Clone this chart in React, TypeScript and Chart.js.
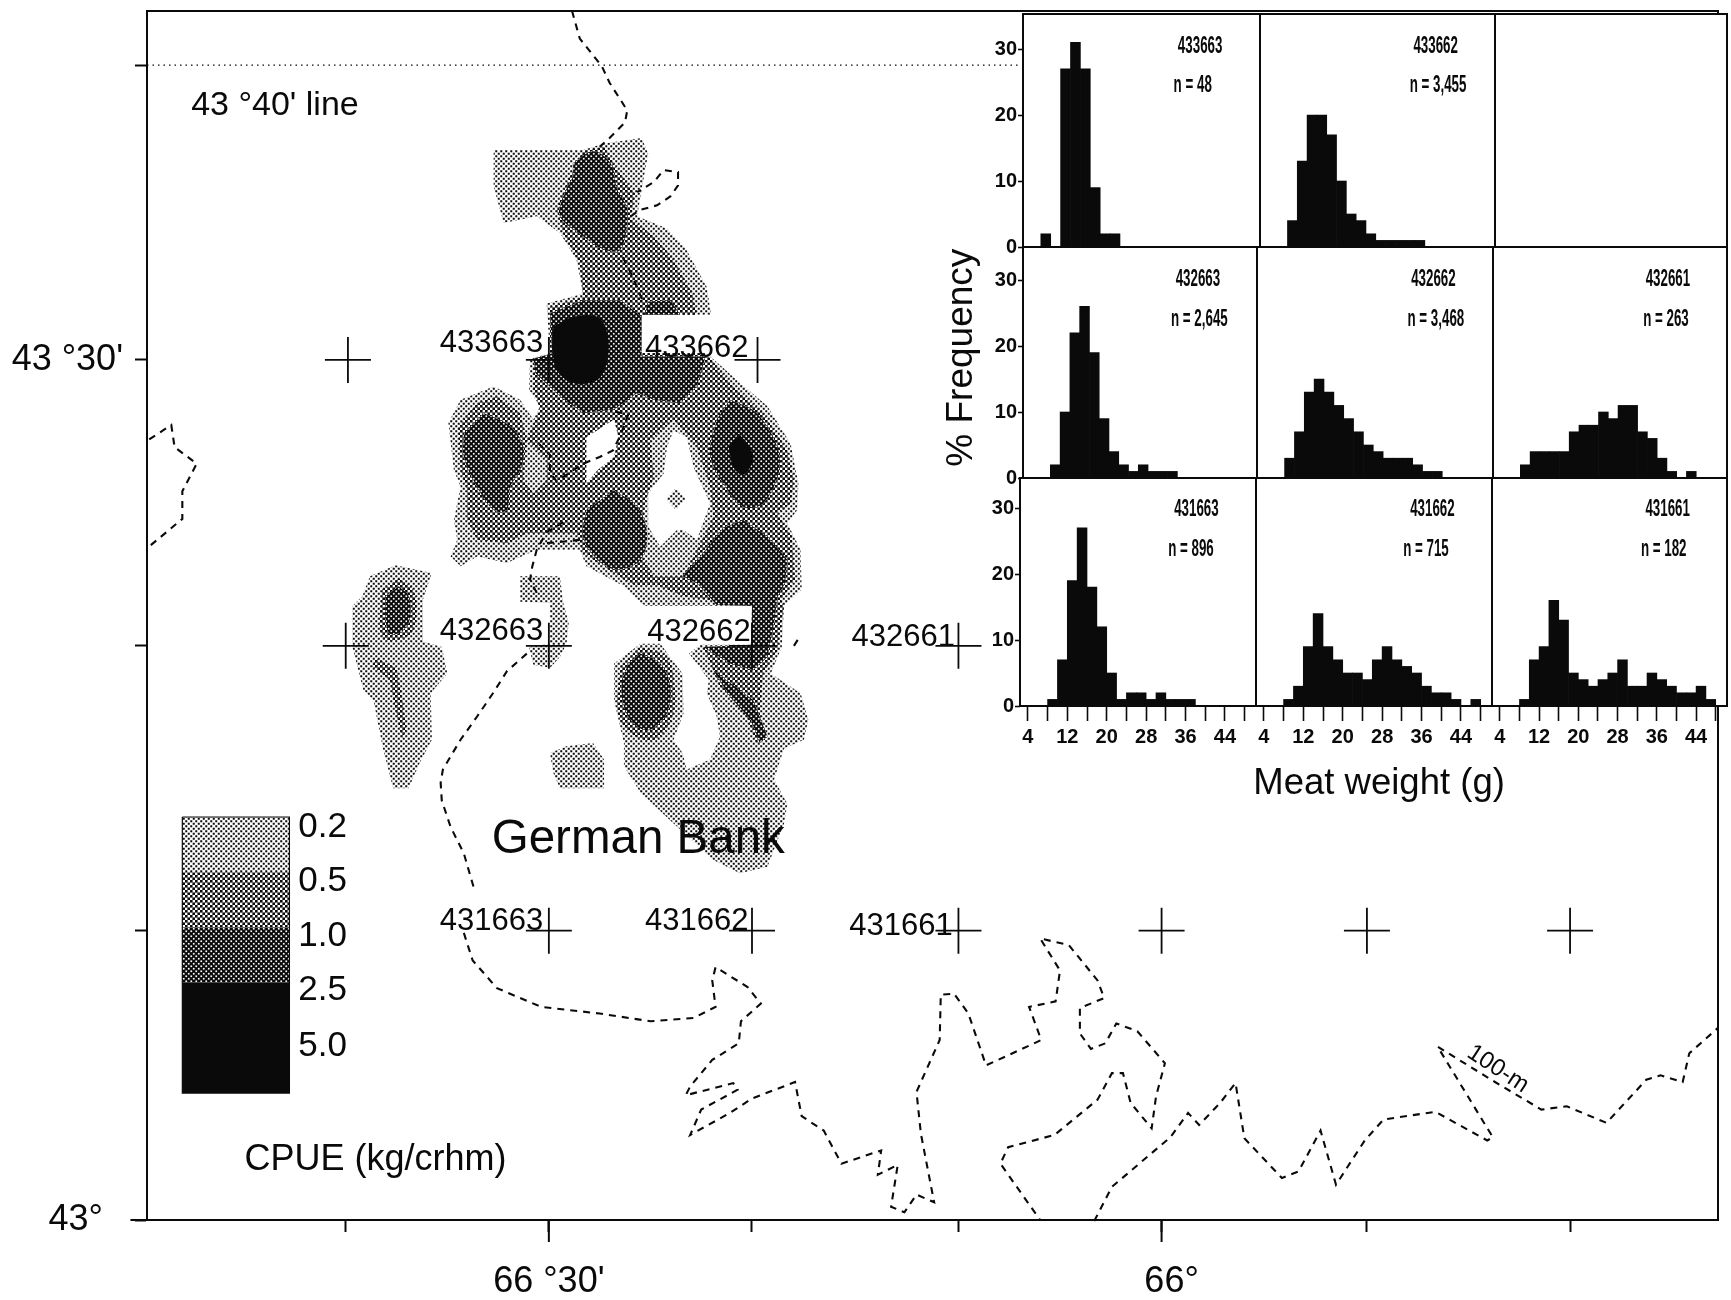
import React, { useEffect, useRef } from "react";
import { Chart, registerables } from "chart.js";

Chart.register(...registerables);

type Pt = [number, number];

/* ---- histogram data: % frequency in 2 g meat-weight bins ---- */
const binCentres = [3, 5, 7, 9, 11, 13, 15, 17, 19, 21, 23, 25, 27, 29, 31, 33, 35, 37, 39, 41, 43, 45, 47, 49];
const freq433663 = [0, 0, 2, 0, 27, 31, 27, 9, 2, 2, 0, 0, 0, 0, 0, 0, 0, 0, 0, 0, 0, 0, 0, 0];
const freq433662 = [0, 0, 0, 4, 13, 20, 20, 17, 10, 5, 4, 2, 1, 1, 1, 1, 1, 0, 0, 0, 0, 0, 0, 0];
const freq432663 = [0, 0, 0, 2, 10, 22, 26, 19, 9, 4, 2, 1, 2, 1, 1, 1, 0, 0, 0, 0, 0, 0, 0, 0];
const freq432662 = [0, 0, 0, 3, 7, 13, 15, 13, 11, 9, 7, 5, 4, 3, 3, 3, 2, 1, 1, 0, 0, 0, 0, 0];
const freq432661 = [0, 0, 0, 2, 4, 4, 4, 4, 7, 8, 8, 10, 9, 11, 11, 7, 6, 3, 1, 0, 1, 0, 0, 0];
const freq431663 = [0, 0, 0, 1, 7, 19, 27, 18, 12, 5, 1, 2, 2, 1, 2, 1, 1, 1, 0, 0, 0, 0, 0, 0];
const freq431662 = [0, 0, 0, 1, 3, 9, 14, 9, 7, 5, 5, 4, 7, 9, 7, 6, 5, 3, 2, 2, 1, 0, 1, 0];
const freq431661 = [0, 0, 0, 1, 7, 9, 16, 13, 5, 4, 3, 4, 5, 7, 3, 3, 5, 4, 3, 2, 2, 3, 1, 0];
const weightTicks = [4, 8, 12, 16, 20, 24, 28, 32, 36, 40, 44, 48];
const weightLabels = [4, 12, 20, 28, 36, 44];
const freqTicks = [0, 10, 20, 30];

/* ---- map data, in projected grid units (easting, southing) ---- */
const gridX = { min: 133, max: 1556 };
const gridY = { min: 10, max: 1105 };
const eastingTicks = [313, 497, 681, 868, 1052, 1238, 1422];
const southingTicks = [59, 326, 585, 843, 1105];
const eastingLabels: Record<number, string> = { 497: "66 °30'", 1052: "  66°" };
const southingLabels: Record<number, string> = { 326: "43 °30'", 1105: "43°  " };

const stationCrosses: Pt[] = [
  [315, 326], [497, 326], [686, 326],
  [313, 585], [497, 585], [681, 585], [868, 585],
  [497, 843], [681, 843], [868, 843], [1052, 843], [1238, 843], [1422, 843],
];

const line4340: Pt[] = [[133, 59], [925, 59]];
const mapFrame: Pt[] = [[133, 10], [1556, 10], [1556, 1105]];
const longTick1: Pt[] = [[497, 1105], [497, 1125]];
const longTick2: Pt[] = [[1052, 1105], [1052, 1125]];
const longTick3: Pt[] = [[118, 1105], [133, 1105]];

/* 100-m isobath */
const iso1: Pt[] = [[518, 10], [525, 35], [545, 60], [552, 75], [568, 100], [566, 111], [552, 125], [543, 133]];
const iso2: Pt[] = [[571, 196], [580, 190], [595, 186], [607, 178], [614, 168], [614, 156], [601, 154], [592, 165], [577, 174]];
const iso3: Pt[] = [[564, 233], [573, 251], [583, 275]];
const iso4: Pt[] = [[557, 373], [569, 375], [562, 394], [555, 408], [543, 414], [528, 420], [516, 428], [504, 436], [498, 428], [498, 412], [483, 397]];
const iso5: Pt[] = [[525, 489], [507, 491], [495, 492]];
const iso6: Pt[] = [[510, 473], [495, 482], [486, 498], [482, 513], [480, 525], [486, 537]];
const iso7: Pt[] = [[477, 592], [459, 608], [447, 627], [432, 649], [417, 670], [401, 697], [399, 709], [400, 725], [408, 749], [420, 773], [429, 804]];
const iso8: Pt[] = [
  [420, 845], [428, 870], [450, 895], [490, 912], [543, 918], [589, 925], [628, 922], [648, 912], [645, 888], [648, 876],
  [677, 894], [689, 909], [671, 925], [669, 945], [645, 960], [625, 984], [621, 992], [664, 981], [668, 987], [635, 1005],
  [625, 1028], [661, 1008], [681, 995], [720, 980], [726, 1011], [746, 1024], [762, 1054], [798, 1042], [795, 1064], [813, 1055],
  [807, 1093], [819, 1098], [830, 1082], [846, 1089], [834, 1027], [830, 989], [851, 942], [852, 901], [864, 900], [877, 918],
  [893, 965], [943, 942], [932, 912], [956, 907], [960, 879], [942, 850], [968, 856], [994, 888], [1000, 904], [978, 913],
  [978, 936], [988, 950], [1001, 945], [1011, 927], [1030, 934], [1055, 963], [1047, 993], [1043, 1022], [1024, 999], [1017, 972],
  [1007, 972], [994, 996], [955, 1028], [913, 1039], [906, 1054], [942, 1105],
];
const iso9: Pt[] = [
  [991, 1106], [1007, 1075], [1060, 1030], [1076, 1008], [1086, 1019], [1105, 999], [1119, 981], [1127, 1031], [1161, 1067],
  [1176, 1061], [1196, 1024], [1210, 1073], [1236, 1033], [1253, 1014], [1300, 1007], [1347, 1033], [1352, 1030], [1302, 948],
  [1354, 980], [1396, 1005], [1419, 1002], [1455, 1017], [1491, 978], [1504, 974], [1524, 980], [1530, 954], [1556, 931],
];
const iso10: Pt[] = [[135, 398], [155, 385], [158, 405], [178, 420], [165, 445], [165, 470], [135, 495]];
const iso11: Pt[] = [[719, 585], [724, 577]];

/* CPUE contours */
const cpue02North: Pt[] = [
  [447, 136], [528, 136], [547, 130], [581, 125], [587, 139], [581, 172], [577, 196], [604, 207], [621, 225], [640, 260],
  [644, 285], [581, 285], [581, 320], [640, 320], [667, 344], [695, 368], [716, 402], [723, 438], [722, 462], [713, 474],
  [725, 498], [726, 534], [710, 549], [681, 549], [585, 549], [580, 546], [565, 531], [531, 513], [525, 498], [486, 498],
  [459, 510], [432, 504], [417, 513], [408, 504], [414, 489], [411, 471], [417, 441], [411, 426], [406, 383], [417, 362],
  [447, 350], [471, 362], [483, 380], [489, 368], [479, 353], [480, 325], [498, 320], [495, 275], [528, 266], [522, 235],
  [507, 211], [486, 196], [456, 202], [447, 169],
];
const cpue02South: Pt[] = [
  [710, 549], [708, 586], [698, 610], [725, 628], [732, 652], [728, 670], [710, 678], [701, 706], [713, 728], [710, 746],
  [695, 785], [670, 791], [646, 779], [610, 746], [580, 718], [565, 694], [565, 673], [556, 634], [556, 601], [580, 583],
  [598, 583], [618, 610], [619, 646], [610, 670], [618, 682], [622, 697], [643, 688], [652, 667], [649, 649], [640, 628],
  [642, 616], [624, 592], [634, 584], [681, 584], [681, 549],
];
const cpue02West: Pt[] = [
  [358, 512], [391, 519], [383, 543], [383, 581], [400, 586], [405, 610], [390, 628], [391, 670], [380, 691], [370, 714],
  [356, 714], [347, 679], [338, 634], [329, 625], [319, 586], [319, 549], [328, 540], [335, 522],
];
const cpue02Small: Pt[] = [[471, 522], [507, 522], [510, 546], [515, 564], [513, 583], [507, 595], [498, 605], [483, 602], [479, 586], [498, 583], [498, 546], [471, 545]];
const cpue02Patch: Pt[] = [[498, 682], [513, 676], [537, 673], [547, 688], [547, 714], [507, 714], [501, 700]];

const cpue05Main: Pt[] = [
  [528, 137], [547, 133], [559, 154], [575, 175], [571, 198], [592, 214], [610, 235], [627, 266], [631, 285], [581, 285],
  [581, 320], [639, 320], [664, 350], [691, 374], [713, 408], [719, 435], [716, 456], [704, 465], [717, 486], [720, 525],
  [707, 544], [710, 549], [704, 589], [691, 610], [688, 646], [695, 670], [685, 673], [676, 649], [652, 622], [637, 586],
  [681, 585], [681, 549], [619, 540], [595, 530], [575, 530], [565, 525], [528, 501], [522, 483], [477, 483], [459, 492],
  [432, 489], [423, 471], [423, 444], [417, 426], [415, 386], [432, 365], [450, 359], [471, 374], [477, 398], [489, 371],
  [483, 353], [483, 329], [498, 322], [498, 278], [528, 269], [525, 239], [510, 211], [504, 190], [513, 166],
];
const cpue05West: Pt[] = [[361, 524], [374, 534], [377, 558], [371, 575], [350, 580], [344, 570], [346, 534]];
const cpue05Streak: Pt[] = [[340, 596], [359, 605], [364, 631], [368, 661], [364, 669], [358, 643], [353, 616], [337, 604]];
const cpue05Round: Pt[] = [[580, 586], [604, 595], [611, 622], [610, 646], [598, 667], [583, 670], [565, 658], [559, 640], [562, 604]];

const lowRing: Pt[] = [[610, 380], [631, 405], [643, 441], [646, 468], [631, 498], [619, 522], [592, 522], [580, 501], [584, 456], [592, 432], [589, 399]];
const lowGap: Pt[] = [[477, 399], [495, 417], [495, 435], [483, 447], [474, 435]];
const holeWest: Pt[] = [[531, 396], [556, 380], [560, 396], [556, 414], [541, 426], [531, 438]];
const holeCentre: Pt[] = [[610, 390], [622, 396], [628, 423], [643, 456], [631, 489], [619, 480], [613, 480], [598, 495], [587, 477], [587, 447], [601, 429], [604, 405]];
const holeIsland: Pt[] = [[612, 442], [621, 452], [612, 462], [603, 452]];

const cpue10Lobe: Pt[] = [[519, 148], [537, 137], [553, 148], [559, 172], [568, 190], [562, 226], [547, 226], [528, 214], [507, 196], [510, 178], [519, 160]];
const cpue10Neck: Pt[] = [[587, 273], [607, 272], [616, 285], [584, 285]];
const cpue10Centre: Pt[] = [
  [498, 284], [528, 272], [562, 272], [581, 287], [581, 323], [639, 323], [631, 350], [616, 365], [592, 362], [577, 356],
  [556, 371], [528, 374], [507, 359], [485, 338], [483, 325], [500, 320],
];
const cpue10East: Pt[] = [[661, 362], [685, 374], [704, 405], [705, 429], [691, 456], [673, 459], [655, 438], [643, 411], [649, 380]];
const cpue10Mid: Pt[] = [[556, 444], [577, 459], [586, 483], [580, 507], [559, 516], [541, 507], [528, 486], [531, 462]];
const cpue10SouthEast: Pt[] = [
  [673, 471], [695, 486], [713, 507], [711, 528], [704, 541], [701, 564], [695, 595], [682, 607], [661, 601], [637, 586],
  [680, 584], [681, 549], [649, 548], [631, 528], [618, 522], [634, 504], [655, 478],
];
const cpue10Streak: Pt[] = [[646, 607], [682, 634], [695, 667], [688, 673], [680, 652], [661, 631]];
const cpue10West: Pt[] = [[438, 374], [462, 386], [474, 405], [471, 426], [462, 441], [459, 462], [447, 462], [432, 441], [420, 414], [420, 393]];
const cpue10WestSmall: Pt[] = [[361, 531], [370, 540], [371, 561], [364, 572], [353, 574], [349, 561], [349, 540]];
const cpue10Round: Pt[] = [[580, 592], [598, 601], [607, 622], [604, 646], [589, 661], [577, 658], [566, 643], [563, 619], [569, 601]];

const cpue25Centre: Pt[] = [[501, 296], [519, 287], [541, 287], [550, 302], [550, 326], [541, 344], [519, 347], [504, 335], [500, 314]];
const cpue25East: Pt[] = [[669, 393], [679, 405], [682, 417], [673, 430], [664, 423], [660, 405]];

/* legend */
const legendBand02: Pt[] = [[165, 740], [262, 740], [262, 790], [165, 790]];
const legendBand05: Pt[] = [[165, 790], [262, 790], [262, 840], [165, 840]];
const legendBand10: Pt[] = [[165, 840], [262, 840], [262, 890], [165, 890]];
const legendBand25: Pt[] = [[165, 890], [262, 890], [262, 990], [165, 990]];
const legendOutline: Pt[] = [[165, 740], [262, 740], [262, 990], [165, 990], [165, 740]];
const legendValues = ["0.2", "0.5", "1.0", "2.5", "5.0"];
const legendValueRows = [747, 796, 845, 894, 945];

/* text placed on the map */
const stationNames = ["433663", "433662", "432663", "432662", "432661", "431663", "431662", "431661"];
const stationNameX = [445, 631, 445, 633, 818, 445, 631, 816];
const stationNameY = [308, 313, 569, 570, 575, 832, 832, 836];

const panelIds = ["433663", "433662", "", "432663", "432662", "432661", "431663", "431662", "431661"];
const panelCounts = ["n = 48", "n = 3,455", "", "n = 2,645", "n = 3,468", "n = 263", "n = 896", "n = 715", "n = 182"];
const panelCountX = [36.7, 38.7, 0, 38.5, 38.7, 37.8, 37.1, 36.9, 37.4];
const panelFreqs = [freq433663, freq433662, [], freq432663, freq432662, freq432661, freq431663, freq431662, freq431661];
const panelLeft = [1023, 1260, 1495, 1023, 1257, 1493, 1020, 1256, 1492];
const panelRight = [1260, 1495, 1727, 1257, 1493, 1727, 1256, 1492, 1727];
const panelTop = [14, 14, 14, 247, 247, 247, 478, 478, 478];
const panelBottom = [247, 247, 247, 478, 478, 478, 706, 706, 706];
const panelColumn = [0, 1, 2, 0, 1, 2, 0, 1, 2];
const panelRow = [0, 0, 0, 1, 1, 1, 2, 2, 2];
const rowTextDrop = [0, 0.35, 0.7];

const INK = "#0a0a0a";
const SANS = '"Liberation Sans", Arial, sans-serif';
const NARROW = '"Liberation Sans Narrow", "Liberation Sans", sans-serif';

function dither(ctx: CanvasRenderingContext2D, dark: boolean, size: number) {
  const tile = document.createElement("canvas");
  tile.width = 5;
  tile.height = 5;
  const t = tile.getContext("2d")!;
  t.fillStyle = dark ? INK : "#ffffff";
  t.fillRect(0, 0, 5, 5);
  t.fillStyle = dark ? "#ffffff" : INK;
  const half = size / 2;
  t.fillRect(1.25 - half, 1.25 - half, size, size);
  t.fillRect(3.75 - half, 3.75 - half, size, size);
  return ctx.createPattern(tile, "repeat")!;
}

const toXY = (p: Pt[]) => p.map(([x, y]) => ({ x, y }));
const noOverhang = (s: any) => {
  s.paddingLeft = 0;
  s.paddingRight = 0;
  s.paddingTop = 0;
  s.paddingBottom = 0;
};
const labelRoom = (i: number) => (panelColumn[i] === 0 && panelRow[i] < 2 ? 10 : 1);

function App() {
  const mainRef = useRef<HTMLCanvasElement>(null);
  const panelRefs = useRef<(HTMLCanvasElement | null)[]>([]);

  useEffect(() => {
    const ctx = mainRef.current!.getContext("2d")!;
    const p02 = dither(ctx, false, 2.0);
    const p05 = dither(ctx, false, 2.7);
    const p10 = dither(ctx, true, 1.7);

    const area = (data: Pt[], fillStyle: any, tension = 0) => ({
      data: toXY(data), showLine: true, fill: "shape", backgroundColor: fillStyle,
      borderWidth: 0, borderColor: "transparent", pointRadius: 0, tension, capBezierPoints: false,
    });
    const dashed = (data: Pt[]) => ({
      data: toXY(data), showLine: true, fill: false, borderColor: INK, borderWidth: 2.1,
      borderDash: [7, 6], pointRadius: 0, clip: false,
    });
    const solid = (data: Pt[], width = 1.6) => ({
      data: toXY(data), showLine: true, fill: false, borderColor: INK, borderWidth: width,
      pointRadius: 0, clip: false,
    });

    const paint: any[] = [
      ...[cpue02North, cpue02South, cpue02West, cpue02Small, cpue02Patch].map((d) => area(d, p02)),
      area(cpue05Main, p05),
      area(lowRing, p02), area(lowGap, p02),
      area(holeWest, "#ffffff"), area(holeCentre, "#ffffff"),
      area(holeIsland, p02),
      ...[cpue05West, cpue05Round].map((d) => area(d, p05, 0.35)),
      area(cpue05Streak, p05),
      ...[cpue10Lobe, cpue10East, cpue10Mid, cpue10West, cpue10WestSmall, cpue10Round].map((d) => area(d, p10, 0.35)),
      ...[cpue10Neck, cpue10Centre, cpue10SouthEast, cpue10Streak].map((d) => area(d, p10)),
      ...[cpue25Centre, cpue25East].map((d) => area(d, INK, 0.35)),
      area(legendBand02, p02), area(legendBand05, p05), area(legendBand10, p10), area(legendBand25, INK),
      solid(legendOutline, 1.2),
      ...[iso1, iso2, iso3, iso4, iso5, iso6, iso7, iso8, iso9, iso10, iso11].map(dashed),
      { data: toXY(line4340), showLine: true, fill: false, borderColor: INK, borderWidth: 1.4, borderDash: [1.5, 4], pointRadius: 0, clip: false },
      solid(mapFrame, 2), solid(longTick1, 2), solid(longTick2, 2), solid(longTick3, 2),
      {
        data: toXY(stationCrosses), showLine: false, pointStyle: "cross", pointRadius: 23,
        pointBorderColor: INK, pointBorderWidth: 1.8, pointBackgroundColor: INK, clip: false,
      },
    ];
    const n = paint.length;
    paint.forEach((d, i) => { d.order = n - i; });

    const mapText = {
      id: "mapText",
      afterDatasetsDraw(chart: any) {
        const { ctx: c, scales } = chart;
        const put = (text: string, x: number, y: number, size: number, align: CanvasTextAlign = "center", rot = 0, font = SANS) => {
          c.save();
          c.translate(scales.x.getPixelForValue(x), scales.y.getPixelForValue(y));
          c.rotate((rot * Math.PI) / 180);
          c.font = `${size}px ${font}`;
          c.fillStyle = INK;
          c.textAlign = align;
          c.textBaseline = "middle";
          c.fillText(text, 0, 3);
          c.restore();
        };
        stationNames.forEach((s, i) => put(s, stationNameX[i], stationNameY[i], 31));
        legendValues.forEach((s, i) => put(s, 270, legendValueRows[i], 35, "left"));
        put("German Bank", 578, 758, 47.5);
        put("43 °40' line", 173, 93, 34, "left");
        put("CPUE (kg/crhm)", 340, 1048, 36);
        put("Meat weight (g)", 1249, 707, 36.5);
        put("% Frequency", 868, 324, 37, "center", -90);
        put("100-m", 1358, 966, 24, "center", 33, NARROW);
      },
    };

    const charts: Chart[] = [];
    charts.push(new Chart(mainRef.current!, {
      type: "scatter",
      data: { datasets: paint },
      plugins: [mapText],
      options: {
        animation: false, responsive: false, events: [],
        layout: { autoPadding: false, padding: { top: 11, right: 13, left: 0, bottom: 0 } },
        plugins: { legend: { display: false }, tooltip: { enabled: false } },
        scales: {
          x: {
            type: "linear", min: gridX.min, max: gridX.max,
            grid: { drawOnChartArea: false, tickLength: 12, tickColor: INK, tickWidth: 2 },
            border: { display: true, color: INK, width: 2 },
            afterBuildTicks: (s: any) => { s.ticks = eastingTicks.map((value) => ({ value })); },
            afterFit: (s: any) => { s.height = 80; noOverhang(s); },
            ticks: {
              autoSkip: false, maxRotation: 0, padding: 28, color: INK, font: { family: SANS, size: 36 },
              callback: (v: any) => eastingLabels[v] ?? "",
            },
          },
          y: {
            type: "linear", reverse: true, min: gridY.min, max: gridY.max,
            grid: { drawOnChartArea: false, tickLength: 12, tickColor: INK, tickWidth: 2 },
            border: { display: true, color: INK, width: 2 },
            afterBuildTicks: (s: any) => { s.ticks = southingTicks.map((value) => ({ value })); },
            afterFit: (s: any) => { s.width = 147; noOverhang(s); },
            ticks: {
              autoSkip: false, padding: 12, color: INK, font: { family: SANS, size: 36 },
              callback: (v: any) => southingLabels[v] ?? "",
            },
          },
        },
      } as any,
    }));

    panelIds.forEach((id, i) => {
      const canvas = panelRefs.current[i]!;
      const showY = panelColumn[i] === 0;
      const showX = panelRow[i] === 2;
      const plotH = panelBottom[i] - panelTop[i];
      const panelText = {
        id: "panelText",
        beforeDraw(chart: any) {
          const { ctx: c, chartArea: a } = chart;
          c.save();
          c.fillStyle = "#ffffff";
          c.fillRect(a.left, a.top, a.right - a.left, a.bottom - a.top);
          c.restore();
        },
        afterDraw(chart: any) {
          const { ctx: c, chartArea: a, scales } = chart;
          c.save();
          c.strokeStyle = INK;
          c.lineWidth = 2;
          c.strokeRect(a.left, a.top, a.right - a.left, a.bottom - a.top);
          c.fillStyle = INK;
          c.textAlign = "center";
          c.textBaseline = "middle";
          c.font = `bold 23px ${NARROW}`;
          const put = (t: string, x: number, y: number) => {
            c.save();
            c.translate(scales.x.getPixelForValue(x), scales.y.getPixelForValue(y));
            c.scale(0.58, 1);
            c.fillText(t, 0, 0);
            c.restore();
          };
          if (id) {
            put(id, 38.2, 30.4 - rowTextDrop[panelRow[i]]);
            put(panelCounts[i], panelCountX[i], 24.4 - rowTextDrop[panelRow[i]]);
          }
          c.restore();
        },
      };
      charts.push(new Chart(canvas, {
        type: "bar",
        data: {
          datasets: [{
            data: binCentres.map((x, k) => ({ x, y: panelFreqs[i][k] ?? 0 })),
            backgroundColor: INK, borderWidth: 0, barPercentage: 1, categoryPercentage: 1, grouped: false,
          }],
        },
        plugins: [panelText],
        options: {
          animation: false, responsive: false, events: [],
          layout: { autoPadding: false, padding: { left: 1, top: 1, right: 1, bottom: labelRoom(i) } },
          plugins: { legend: { display: false }, tooltip: { enabled: false } },
          scales: {
            x: {
              type: "linear", display: showX, min: 2.4, max: 50.3, offset: false,
              grid: { offset: false, drawOnChartArea: false, tickLength: 15, tickColor: INK, tickWidth: 1.6 },
              border: { display: false },
              afterBuildTicks: (s: any) => { s.ticks = weightTicks.map((value) => ({ value })); },
              afterFit: (s: any) => { s.height = showX ? 50 : 0; noOverhang(s); },
              ticks: {
                autoSkip: false, maxRotation: 0, padding: 4, color: INK, font: { family: NARROW, size: 20, weight: "bold" },
                callback: (v: any) => (weightLabels.includes(v) ? String(v) : ""),
              },
            },
            y: {
              type: "linear", display: showY, min: 0, max: plotH / 6.6,
              grid: { drawOnChartArea: false, tickLength: 5, tickColor: INK, tickWidth: 1.6 },
              border: { display: false },
              afterBuildTicks: (s: any) => { s.ticks = freqTicks.map((value) => ({ value })); },
              afterFit: (s: any) => { s.width = showY ? 32 : 0; noOverhang(s); },
              ticks: { autoSkip: false, padding: 1, color: INK, font: { family: NARROW, size: 20, weight: "bold" } },
            },
          },
        },
      } as any));
    });

    return () => charts.forEach((c) => c.destroy());
  }, []);

  return (
    <div style={{ position: "absolute", left: 0, top: 0, width: 1731, height: 1300, background: "#fff", overflow: "hidden" }}>
      <canvas ref={mainRef} width={1731} height={1300} style={{ position: "absolute", left: 0, top: 0 }} />
      {panelIds.map((_, i) => {
        const axisW = panelColumn[i] === 0 ? 32 : 0;
        const axisH = panelRow[i] === 2 ? 50 : 0;
        const w = panelRight[i] - panelLeft[i] + axisW + 2;
        const h = panelBottom[i] - panelTop[i] + axisH + 1 + labelRoom(i);
        return (
          <canvas
            key={i}
            ref={(el) => { panelRefs.current[i] = el; }}
            width={w}
            height={h}
            style={{ position: "absolute", left: panelLeft[i] - axisW - 1, top: panelTop[i] - 1, width: w, height: h }}
          />
        );
      })}
    </div>
  );
}

export default App;
